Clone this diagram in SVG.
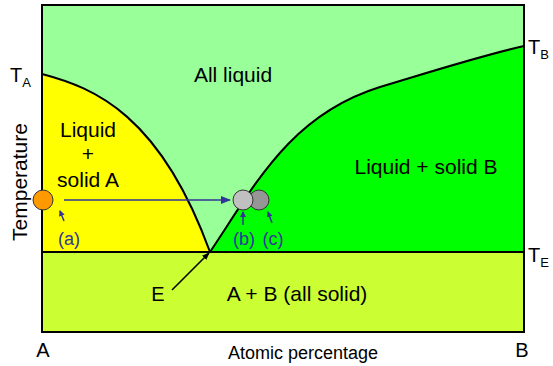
<svg xmlns="http://www.w3.org/2000/svg" width="553" height="366" viewBox="0 0 553 366">
<style>
text{font-family:"Liberation Sans",Arial,sans-serif;fill:#000}
.lbl{font-size:21px}
.sm{font-size:20px}
.sub{font-size:13px}
.blue{fill:#333399;font-size:18px}
.bd{stroke:#000;stroke-width:2;fill:none}
.ar{stroke:#333399;stroke-width:1.5;fill:none}
</style>
<defs>
<marker id="ab" markerWidth="10" markerHeight="8" refX="9" refY="4" orient="auto" markerUnits="userSpaceOnUse"><path d="M0,0 L10,4 L0,8 z" fill="#333399"/></marker>
<marker id="as" markerWidth="6" markerHeight="6" refX="5" refY="3" orient="auto" markerUnits="userSpaceOnUse"><path d="M0,0 L6,3 L0,6 z" fill="#333399"/></marker>
<marker id="ak" markerWidth="8" markerHeight="6" refX="7" refY="3" orient="auto" markerUnits="userSpaceOnUse"><path d="M0,0 L8,3 L0,6 z" fill="#000"/></marker>
</defs>
<g id="regions">
<rect x="42" y="5" width="482" height="327" fill="#99ff99"/>
<path d="M42,74 C95,88 160,115 210,252 L42,252 Z" fill="#ffff00"/>
<path d="M210,252 C255,185 290,115 380,87 C430,72 480,56 524,46 L524,252 Z" fill="#00ff00"/>
<rect x="42" y="252" width="482" height="80" fill="#ccff33"/>
</g>
<g id="lines">
<path class="bd" d="M42,74 C95,88 160,115 210,252"/>
<path class="bd" d="M210,252 C255,185 290,115 380,87 C430,72 480,56 524,46"/>
<line class="bd" x1="42" y1="252" x2="524" y2="252"/>
<rect class="bd" x="42" y="5" width="482" height="327"/>
</g>
<g id="connectors">
<line class="ar" x1="64" y1="200" x2="230" y2="200" marker-end="url(#ab)"/>
<line class="ar" x1="64" y1="221" x2="60" y2="211" marker-end="url(#as)"/>
<line class="ar" x1="243" y1="225" x2="243" y2="212" marker-end="url(#as)"/>
<line class="ar" x1="272" y1="223" x2="268" y2="212" marker-end="url(#as)"/>
<line x1="172" y1="290" x2="209" y2="253" stroke="#000" stroke-width="1.5" marker-end="url(#ak)"/>
</g>
<g id="point-a"><circle cx="43" cy="200" r="10" fill="#ff9900" stroke="#333" stroke-width="1"/></g>
<g id="point-c"><circle cx="259" cy="200" r="10" fill="#969696" stroke="#333" stroke-width="1"/></g>
<g id="point-b"><circle cx="243" cy="200" r="10" fill="#c0c0c0" stroke="#333" stroke-width="1"/></g>
<g id="labels">
<text class="lbl" x="233" y="82" text-anchor="middle">All liquid</text>
<text class="lbl" x="88" y="137" text-anchor="middle">Liquid</text>
<text class="lbl" x="88" y="161" text-anchor="middle">+</text>
<text class="lbl" x="88" y="187" text-anchor="middle">solid A</text>
<text class="lbl" x="426" y="174" text-anchor="middle">Liquid + solid B</text>
<text class="lbl" x="297" y="301" text-anchor="middle">A + B (all solid)</text>
<text class="sm" x="158" y="301" text-anchor="middle">E</text>
<text class="blue" x="69" y="245" text-anchor="middle">(a)</text>
<text class="blue" x="244" y="245" text-anchor="middle">(b)</text>
<text class="blue" x="273" y="245" text-anchor="middle">(c)</text>
<text class="sm" x="10" y="82">T<tspan class="sub" dy="5">A</tspan></text>
<text class="sm" x="528" y="54">T<tspan class="sub" dy="5">B</tspan></text>
<text class="sm" x="528" y="262">T<tspan class="sub" dy="5">E</tspan></text>
<text class="sm" x="43" y="357" text-anchor="middle">A</text>
<text class="sm" x="522" y="357" text-anchor="middle">B</text>
<text class="sm" x="303" y="359" text-anchor="middle" style="font-size:18px">Atomic percentage</text>
<text class="lbl" transform="translate(27,182) rotate(-90)" text-anchor="middle">Temperature</text>
</g>
</svg>
